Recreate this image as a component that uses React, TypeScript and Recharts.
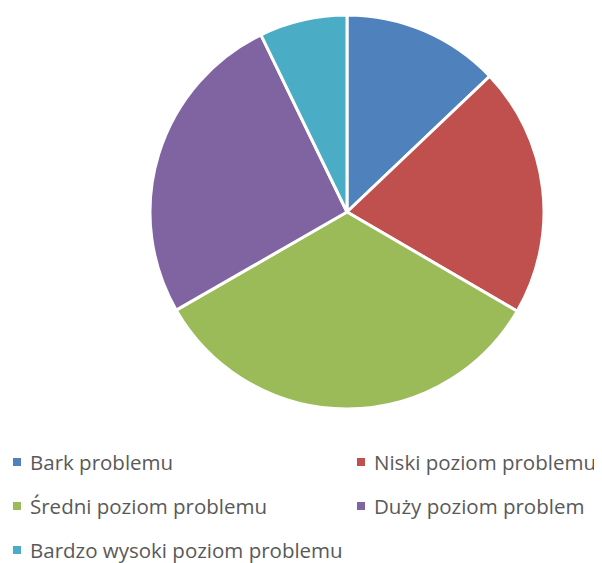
import React from 'react';
import { PieChart, Pie, Cell, Legend } from 'recharts';

const categories = [
  'Bark problemu',
  'Niski poziom problemu',
  'Średni poziom problemu',
  'Duży poziom problem',
  'Bardzo wysoki poziom problemu',
];
const values = [12.9, 20.5, 33.3, 26.1, 7.2];
const colors = ['#4F81BD', '#C0504D', '#9BBB59', '#8064A2', '#4BACC6'];

const data = categories.map((name, i) => ({ name, value: values[i] }));

const LegendContent = () => {
  const pos = [
    { left: 5, top: 8 },
    { left: 349, top: 8 },
    { left: 5, top: 52 },
    { left: 349, top: 52 },
    { left: 5, top: 96 },
  ];
  return (
    <div style={{ position: 'relative', width: 594, height: 123 }}>
      {categories.map((c, i) => (
        <div
          key={c}
          style={{
            position: 'absolute',
            left: pos[i].left,
            top: pos[i].top,
            display: 'flex',
            alignItems: 'center',
            fontFamily: '"Open Sans", sans-serif',
            fontSize: 20.5,
            color: '#595959',
            whiteSpace: 'nowrap',
            height: 28,
          }}
        >
          <span
            style={{
              display: 'inline-block',
              width: 8,
              height: 8,
              background: colors[i],
              marginRight: 9,
            }}
          />
          <span>{c}</span>
        </div>
      ))}
    </div>
  );
};

export default function App() {
  return (
    <PieChart width={594} height={555} margin={{ top: 0, right: 0, bottom: 0, left: 0 }}>
      <Pie
        data={data}
        dataKey="value"
        nameKey="name"
        cx={339}
        cy={204}
        outerRadius={197}
        startAngle={90}
        endAngle={-270}
        stroke="#FFFFFF"
        strokeWidth={3}
        isAnimationActive={false}
      >
        {data.map((d, i) => (
          <Cell key={d.name} fill={colors[i]} />
        ))}
      </Pie>
      <Legend
        content={<LegendContent />}
        wrapperStyle={{ position: 'absolute', left: 0, top: 432, width: 594 }}
      />
    </PieChart>
  );
}
